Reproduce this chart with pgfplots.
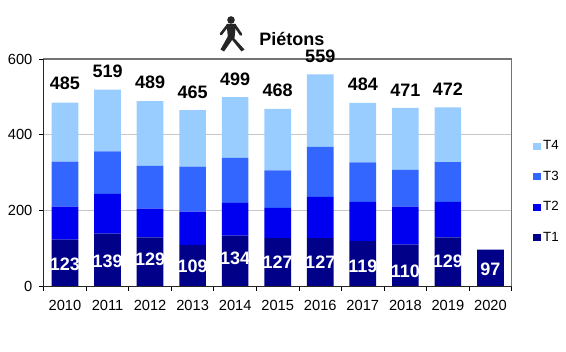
\documentclass[border=0pt]{standalone}
\usepackage{pgfplots}
\pgfplotsset{compat=1.18}
\usepackage{fontspec}
\setmainfont{Liberation Sans}
\definecolor{cA}{HTML}{000088}
\definecolor{cB}{HTML}{0000F0}
\definecolor{cC}{HTML}{3366FF}
\definecolor{cD}{HTML}{99CCFF}
\begin{document}
\begin{tikzpicture}[x=0.75pt,y=0.75pt]
\path (0,0) rectangle (566,352);
\begin{axis}[
  at={(32.78pt,49.28pt)},anchor=south west,
  scale only axis,width=351pt,height=170.5pt,
  ybar stacked,bar width=20pt,
  xmin=-0.5,xmax=10.5,ymin=0,ymax=600,
  xtick={0,...,10},
  xticklabels={2010,2011,2012,2013,2014,2015,2016,2017,2018,2019,2020},
  minor xtick={-0.5,0.5,...,10.5},
  ytick={0,200,400,600},
  tick align=outside,
  major tick length=3.5pt,minor tick length=3.5pt,
  xtick style={draw=none},
  minor x tick style={draw=black,line width=0.6pt},
  y tick style={draw=black,line width=0.6pt},
  tick pos=left,
  ymajorgrids,
  grid style={draw=black!22,line width=0.8pt},
  axis line style={draw=black!55,line width=0.9pt},
  ticklabel style={font=\fontsize{11}{13}\selectfont},
  /pgf/number format/assume math mode=true,
  xticklabel style={yshift=-3.5pt},
  yticklabel style={xshift=-1.5pt},
  clip=false,
  reverse legend,
  legend style={draw=none,fill=none,anchor=south west,font=\fontsize{10}{11}\selectfont,row sep=10.4pt,inner sep=0pt,
    at={(1.0,0)},xshift=16pt,yshift=30pt},
  legend cell align=left,
  legend image code/.code={\fill[#1] (0pt,-2.7pt) rectangle (5.4pt,2.7pt);},
  every axis plot/.append style={draw=none},
]
\addplot[fill=cA] coordinates {(0,123)(1,139)(2,129)(3,109)(4,134)(5,127)(6,127)(7,119)(8,110)(9,129)(10,97)};
\addplot[fill=cB] coordinates {(0,87)(1,105)(2,76)(3,88)(4,86)(5,80)(6,109)(7,104)(8,100)(9,94)};
\addplot[fill=cC] coordinates {(0,119)(1,112)(2,113)(3,119)(4,119)(5,99)(6,132)(7,104)(8,97)(9,105)};
\addplot[fill=cD] coordinates {(0,156)(1,163)(2,171)(3,149)(4,160)(5,162)(6,191)(7,157)(8,164)(9,144)};
\legend{T1,T2,T3,T4}
\end{axis}
\begin{axis}[
  at={(32.78pt,49.28pt)},anchor=south west,
  scale only axis,width=351pt,height=170.5pt,
  xmin=-0.5,xmax=10.5,ymin=0,ymax=600,
  hide axis,clip=false,
]
\draw[black!85,line width=0.9pt] (rel axis cs:0,1) -- (rel axis cs:0,0) -- (rel axis cs:1,0);
\foreach \x/\v/\t in {0/58/123,1/67/139,2/70/129,3/52/109,4/75/134,5/64/127,6/64/127,7/54/119,8/40/110,9/67/129,10/46/97}
  {\edef\tmp{\noexpand\node[text=white,font=\noexpand\fontsize{13.5}{15}\noexpand\bfseries] at (axis cs:\x,\v) {\t};}\tmp}
\foreach \x/\v/\t in {0/536/485,1/567/519,2/538/489,3/513/465,4/547/499,5/516/468,6/608/559,7/532/484,8/518/471,9/520/472}
  {\edef\tmp{\noexpand\node[text=black,font=\noexpand\fontsize{13.5}{15}\noexpand\bfseries] at (axis cs:\x,\v) {\t};}\tmp}
\end{axis}
\node[font=\fontsize{13.5}{15}\bfseries,anchor=base west,inner sep=0pt] at (259,306.5) {Piétons};
\begin{scope}[black!85,line cap=round,line join=round]
\fill (231,332) circle (3.8);
\fill (226.5,328) -- (236,328) -- (234.5,314) -- (228,314) -- cycle;
\fill (228,316) -- (233.5,314) -- (224,300.5) -- (220.5,302.5) -- cycle;
\fill (229,316) -- (234,314) -- (244.5,302.5) -- (241.5,300.5) -- cycle;
\draw[line width=2pt] (228,327) -- (221,318);
\draw[line width=2pt] (234.5,327) -- (241,317.5);
\end{scope}
\end{tikzpicture}
\end{document}
